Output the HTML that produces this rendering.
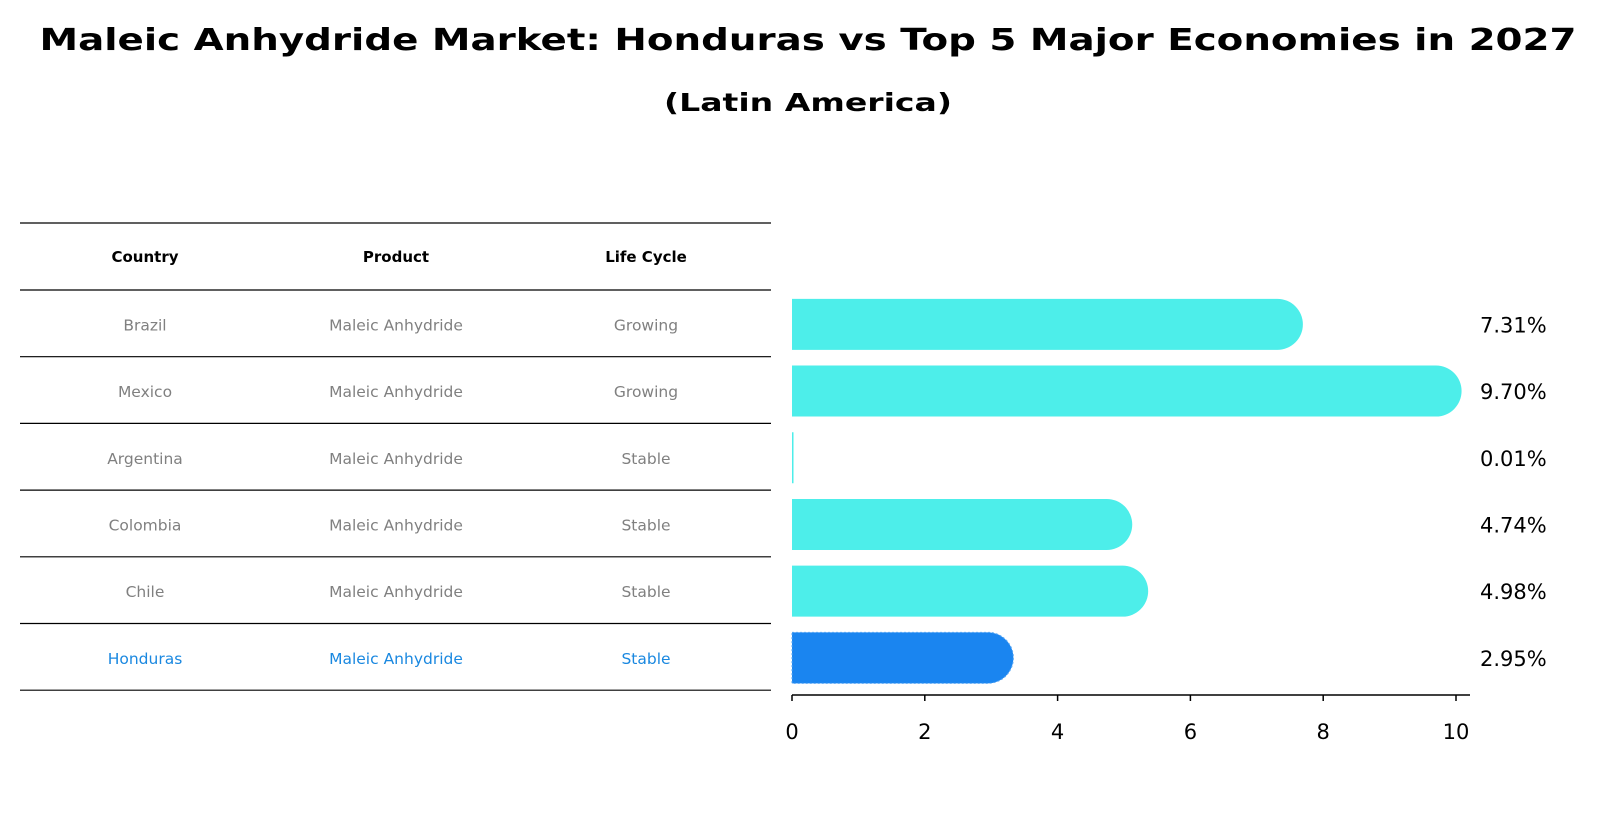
<!DOCTYPE html>
<html><head><meta charset="utf-8"><style>
html,body{margin:0;padding:0;background:#fff;}
svg{display:block;font-family:"DejaVu Sans","Liberation Sans",sans-serif;}
</style></head><body>
<svg id="chart" width="1597" height="823" viewBox="0 0 1597 823" xmlns="http://www.w3.org/2000/svg">
<text x="808" y="50" text-anchor="middle" font-size="30" font-weight="bold" textLength="1537" lengthAdjust="spacingAndGlyphs">Maleic Anhydride Market: Honduras vs Top 5 Major Economies in 2027</text>
<text x="808" y="111" text-anchor="middle" font-size="25" font-weight="bold" textLength="288" lengthAdjust="spacingAndGlyphs">(Latin America)</text>
<g id="table"></g>
<g id="bars"></g>
<g id="axis"></g>
</svg>
<script>
const countries = ["Brazil","Mexico","Argentina","Colombia","Chile","Honduras"];
const products = ["Maleic Anhydride","Maleic Anhydride","Maleic Anhydride","Maleic Anhydride","Maleic Anhydride","Maleic Anhydride"];
const lifeCycles = ["Growing","Growing","Stable","Stable","Stable","Stable"];
const values = [7.31,9.70,0.01,4.74,4.98,2.95];
const valueLabels = ["7.31%","9.70%","0.01%","4.74%","4.98%","2.95%"];
const tickValues = [0,2,4,6,8,10];
const headers = ["Country","Product","Life Cycle"];

const NS="http://www.w3.org/2000/svg";
const x0=792, pxPerUnit=66.4;
const xScale=v=>x0+v*pxPerUnit;
const rowTop=290, rowH=66.7;
const rowCenter=i=>rowTop+rowH*i+rowH/2+1;
const barH=51;
const colX=[145,396,646];
function mk(tag,attrs,parent){const e=document.createElementNS(NS,tag);for(const k in attrs)e.setAttribute(k,attrs[k]);parent.appendChild(e);return e;}

const table=document.getElementById('table');
const lineYs=[223];
for(let i=0;i<=countries.length;i++)lineYs.push(rowTop+rowH*i);
lineYs.forEach((y,i)=>{
  const l=mk('line',{x1:20,x2:771,y1:y,y2:y,stroke:'#000','stroke-width':1.2},table);
  
  
});
headers.forEach((h,j)=>{
  const t=mk('text',{x:colX[j],y:262,'text-anchor':'middle','font-size':15,'font-weight':'bold',fill:'#000'},table);
  t.textContent=h;
  
  
});
countries.forEach((c,i)=>{
  const col=i===countries.length-1?'#1a88e0':'#808080';
  [c,products[i],lifeCycles[i]].forEach((v,j)=>{
    const t=mk('text',{x:colX[j],y:rowCenter(i)+6,'text-anchor':'middle','font-size':15.5,fill:col},table);
    t.textContent=v;
    
    
  });
});

const bars=document.getElementById('bars');
values.forEach((v,i)=>{
  const isH=i===values.length-1;
  const cy=rowCenter(i);
  const w=xScale(v)-x0;
  const r=barH/2;
  const fill=isH?'#1a85f0':'#4deeea';
  let d;
  if(w>1){d=`M${x0},${cy-r} H${x0+w} A${r},${r} 0 0 1 ${x0+w},${cy+r} H${x0} Z`;}
  else{d=`M${x0},${cy-r} H${x0+1.5} V${cy+r} H${x0} Z`;}
  const p=mk('path',{d:d,fill:fill},bars);
  if(isH){p.setAttribute('stroke','#5aa8f5');p.setAttribute('stroke-dasharray','2,2');p.setAttribute('stroke-width','1');}
  
  
  const t=mk('text',{x:1480,y:cy+8,'font-size':21,fill:'#000'},bars);
  t.textContent=valueLabels[i];
  
  
});

const axis=document.getElementById('axis');
const al=mk('line',{x1:x0,x2:1470,y1:695,y2:695,stroke:'#000','stroke-width':1.5},axis);


tickValues.forEach(v=>{
  const tk=mk('line',{x1:xScale(v),x2:xScale(v),y1:695,y2:701,stroke:'#000','stroke-width':1.5},axis);
  
  
  const t=mk('text',{x:xScale(v),y:739,'text-anchor':'middle','font-size':21,fill:'#000'},axis);
  t.textContent=String(v);
  
  
});
</script>
</body></html>
